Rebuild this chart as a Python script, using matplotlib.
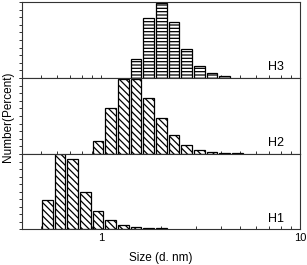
import matplotlib
matplotlib.use('Agg')
import matplotlib.pyplot as plt
from matplotlib.ticker import MultipleLocator, LogLocator, NullFormatter, FixedLocator, FixedFormatter

plt.rcParams['font.family'] = ['Liberation Sans', 'DejaVu Sans']
plt.rcParams['hatch.linewidth'] = 0.9

# size bins (d. nm) and number distribution (%)
h1_size = [0.5365, 0.6213, 0.7195, 0.8332, 0.9649, 1.117, 1.294, 1.499, 1.736, 2.010]
h1_pct = [11.9, 30.4, 28.5, 14.9, 7.3, 3.6, 1.6, 0.8, 0.5, 0.4]

h2_size = [0.9649, 1.117, 1.294, 1.499, 1.736, 2.010, 2.328, 2.696, 3.122, 3.615, 4.187, 4.849]
h2_pct = [3.8, 13.7, 22.2, 22.2, 16.6, 10.5, 5.7, 2.7, 1.1, 0.7, 0.4, 0.2]

h3_size = [1.499, 1.736, 2.010, 2.328, 2.696, 3.122, 3.615, 4.187]
h3_pct = [7.5, 23.3, 29.2, 21.7, 11.4, 4.5, 1.8, 0.7]

W, H = 307, 265
fig = plt.figure(figsize=(W / 100, H / 100), dpi=100)

# panel pixel boxes: (top, bottom)
boxes = [(2, 78), (78, 154), (154, 229)]
left_px, right_px = 22, 300

panels = [
    (h3_size, h3_pct, '-----', 'H3', 29.6),
    (h2_size, h2_pct, '\\\\\\\\\\', 'H2', 22.4),
    (h1_size, h1_pct, '\\\\\\\\\\', 'H1', 30.6),
]

half = 10 ** (0.054 / 2)  # bar half width as a ratio in log space

for i, ((top, bot), (sz, pct, hatch, name, ymax)) in enumerate(zip(boxes, panels)):
    ax = fig.add_axes([left_px / W, 1 - bot / H, (right_px - left_px) / W, (bot - top) / H])
    ax.set_xscale('log')
    lefts = [s / half for s in sz]
    widths = [s * half - s / half for s in sz]
    ax.bar(lefts, pct, width=widths, align='edge', facecolor='white',
           edgecolor='black', linewidth=0.9, hatch=hatch, zorder=2)
    ax.set_xlim(0.4, 10)
    ax.set_ylim(0, ymax)
    ax.yaxis.set_major_locator(MultipleLocator(ymax / 10))
    ax.yaxis.set_major_formatter(NullFormatter())
    ax.tick_params(axis='y', direction='out', length=2.5, width=0.7, color='#333333')
    ax.xaxis.set_major_locator(FixedLocator([1, 10]))
    ax.xaxis.set_minor_locator(LogLocator(base=10, subs=range(2, 10)))
    ax.xaxis.set_minor_formatter(NullFormatter())
    ax.tick_params(axis='x', which='both', direction='in', length=2.5, width=0.7, color='#333333')
    if i < 2:
        ax.xaxis.set_major_formatter(NullFormatter())
    else:
        ax.xaxis.set_major_formatter(FixedFormatter(['1', '10']))
        ax.tick_params(axis='x', which='major', labelsize=8, pad=3)
    for sp in ax.spines.values():
        sp.set_linewidth(0.8)
        sp.set_color('#333333')
    ax.text(0.915, 0.14, name, transform=ax.transAxes, ha='center', va='center', fontsize=9)

fig.text(161 / W, 1 - 258 / H, 'Size (d. nm)', ha='center', va='center', fontsize=8.5)
fig.text(8 / W, 1 - 117 / H, 'Number(Percent)', ha='center', va='center', rotation=90, fontsize=8.5)

fig.savefig('out.png', dpi=100)
